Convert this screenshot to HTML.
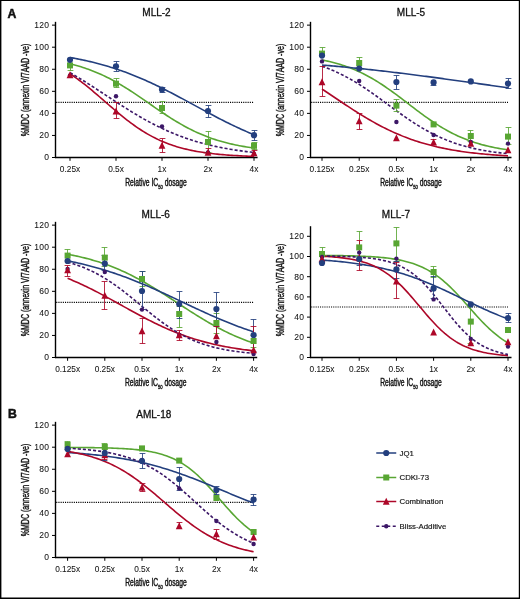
<!DOCTYPE html>
<html><head><meta charset="utf-8"><style>
html,body{margin:0;padding:0;background:#fff;}
svg{display:block;will-change:transform;}
text{font-family:"Liberation Sans", sans-serif;fill:#111;stroke:#111;stroke-width:0.05px;}
</style></head><body>
<svg width="520" height="599" viewBox="0 0 520 599">
<path d="M0 0H520V1.1H0Z M0 0H1.4V599H0Z M518.8 0H520V599H518.8Z M0 597.4H520V599H0Z" fill="#000"/>
<text x="7.5" y="18.1" font-size="12.2" font-weight="bold" style="stroke-width:0.5px">A</text>
<text x="8" y="418.1" font-size="12.2" font-weight="bold" style="stroke-width:0.5px">B</text>
<text x="156.5" y="16.10" text-anchor="middle" font-size="10" style="stroke-width:0.3px">MLL-2</text>
<path d="M55.5 158.10V21.83" stroke="#000" stroke-width="1.4" fill="none"/>
<path d="M54.90 157.50H257.6" stroke="#000" stroke-width="1.3" fill="none"/>
<path d="M52.00 157.50H55.5" stroke="#000" stroke-width="1"/>
<text x="49.10" y="160.40" text-anchor="end" font-size="8.5" letter-spacing="0.2">0</text>
<path d="M52.00 135.44H55.5" stroke="#000" stroke-width="1"/>
<text x="49.10" y="138.34" text-anchor="end" font-size="8.5" letter-spacing="0.2">20</text>
<path d="M52.00 113.38H55.5" stroke="#000" stroke-width="1"/>
<text x="49.10" y="116.28" text-anchor="end" font-size="8.5" letter-spacing="0.2">40</text>
<path d="M52.00 91.32H55.5" stroke="#000" stroke-width="1"/>
<text x="49.10" y="94.22" text-anchor="end" font-size="8.5" letter-spacing="0.2">60</text>
<path d="M52.00 69.26H55.5" stroke="#000" stroke-width="1"/>
<text x="49.10" y="72.16" text-anchor="end" font-size="8.5" letter-spacing="0.2">80</text>
<path d="M52.00 47.20H55.5" stroke="#000" stroke-width="1"/>
<text x="49.10" y="50.10" text-anchor="end" font-size="8.5" letter-spacing="0.2">100</text>
<path d="M52.00 25.14H55.5" stroke="#000" stroke-width="1"/>
<text x="49.10" y="28.04" text-anchor="end" font-size="8.5" letter-spacing="0.2">120</text>
<path d="M70 157.5V160.80" stroke="#000" stroke-width="1"/>
<text x="70" y="171.50" text-anchor="middle" font-size="8.3">0.25x</text>
<path d="M116 157.5V160.80" stroke="#000" stroke-width="1"/>
<text x="116" y="171.50" text-anchor="middle" font-size="8.3">0.5x</text>
<path d="M162 157.5V160.80" stroke="#000" stroke-width="1"/>
<text x="162" y="171.50" text-anchor="middle" font-size="8.3">1x</text>
<path d="M208 157.5V160.80" stroke="#000" stroke-width="1"/>
<text x="208" y="171.50" text-anchor="middle" font-size="8.3">2x</text>
<path d="M254 157.5V160.80" stroke="#000" stroke-width="1"/>
<text x="254" y="171.50" text-anchor="middle" font-size="8.3">4x</text>
<path d="M56.20 102.35H254" stroke="#000" stroke-width="1.1" stroke-dasharray="1.1 1.1"/>
<text transform="translate(25.5,90) rotate(-90) scale(0.68,1)" x="0" y="3.5" text-anchor="middle" font-size="10.4" style="stroke-width:0.4px">%MDC (annexin V/7AAD -ve)</text>
<text transform="translate(156,186) scale(0.675,1)" x="0" y="0" text-anchor="middle" font-size="10" style="stroke-width:0.4px">Relative IC<tspan font-size="6.2" dy="3">50</tspan><tspan dy="-3"> dosage</tspan></text>
<path d="M70.00 63.78 L71.84 64.24 L73.68 64.72 L75.52 65.22 L77.36 65.74 L79.20 66.28 L81.04 66.84 L82.88 67.42 L84.72 68.02 L86.56 68.65 L88.40 69.30 L90.24 69.98 L92.08 70.68 L93.92 71.40 L95.76 72.15 L97.60 72.92 L99.44 73.72 L101.28 74.54 L103.12 75.39 L104.96 76.27 L106.80 77.17 L108.64 78.09 L110.48 79.04 L112.32 80.02 L114.16 81.01 L116.00 82.04 L117.84 83.08 L119.68 84.15 L121.52 85.24 L123.36 86.35 L125.20 87.48 L127.04 88.63 L128.88 89.80 L130.72 90.99 L132.56 92.19 L134.40 93.40 L136.24 94.63 L138.08 95.87 L139.92 97.12 L141.76 98.38 L143.60 99.64 L145.44 100.91 L147.28 102.19 L149.12 103.46 L150.96 104.74 L152.80 106.01 L154.64 107.29 L156.48 108.55 L158.32 109.81 L160.16 111.06 L162.00 112.30 L163.84 113.53 L165.68 114.75 L167.52 115.96 L169.36 117.14 L171.20 118.31 L173.04 119.47 L174.88 120.60 L176.72 121.72 L178.56 122.81 L180.40 123.88 L182.24 124.93 L184.08 125.96 L185.92 126.96 L187.76 127.94 L189.60 128.89 L191.44 129.82 L193.28 130.72 L195.12 131.60 L196.96 132.45 L198.80 133.28 L200.64 134.08 L202.48 134.86 L204.32 135.61 L206.16 136.34 L208.00 137.04 L209.84 137.72 L211.68 138.38 L213.52 139.01 L215.36 139.62 L217.20 140.20 L219.04 140.77 L220.88 141.31 L222.72 141.83 L224.56 142.33 L226.40 142.82 L228.24 143.28 L230.08 143.72 L231.92 144.15 L233.76 144.55 L235.60 144.94 L237.44 145.32 L239.28 145.68 L241.12 146.02 L242.96 146.35 L244.80 146.66 L246.64 146.96 L248.48 147.24 L250.32 147.52 L252.16 147.78 L254.00 148.03" stroke="#58a633" stroke-width="1.6" fill="none"/>
<path d="M70.00 57.50 L71.84 57.83 L73.68 58.16 L75.52 58.51 L77.36 58.87 L79.20 59.23 L81.04 59.61 L82.88 59.99 L84.72 60.39 L86.56 60.80 L88.40 61.22 L90.24 61.64 L92.08 62.09 L93.92 62.54 L95.76 63.00 L97.60 63.48 L99.44 63.97 L101.28 64.46 L103.12 64.98 L104.96 65.50 L106.80 66.04 L108.64 66.59 L110.48 67.15 L112.32 67.73 L114.16 68.32 L116.00 68.92 L117.84 69.53 L119.68 70.16 L121.52 70.80 L123.36 71.46 L125.20 72.12 L127.04 72.80 L128.88 73.50 L130.72 74.21 L132.56 74.93 L134.40 75.66 L136.24 76.41 L138.08 77.17 L139.92 77.94 L141.76 78.73 L143.60 79.52 L145.44 80.34 L147.28 81.16 L149.12 81.99 L150.96 82.84 L152.80 83.70 L154.64 84.56 L156.48 85.44 L158.32 86.33 L160.16 87.23 L162.00 88.14 L163.84 89.06 L165.68 89.99 L167.52 90.93 L169.36 91.87 L171.20 92.82 L173.04 93.78 L174.88 94.75 L176.72 95.72 L178.56 96.70 L180.40 97.68 L182.24 98.66 L184.08 99.65 L185.92 100.65 L187.76 101.65 L189.60 102.64 L191.44 103.64 L193.28 104.65 L195.12 105.65 L196.96 106.65 L198.80 107.65 L200.64 108.65 L202.48 109.65 L204.32 110.64 L206.16 111.63 L208.00 112.62 L209.84 113.60 L211.68 114.58 L213.52 115.56 L215.36 116.52 L217.20 117.48 L219.04 118.44 L220.88 119.38 L222.72 120.32 L224.56 121.25 L226.40 122.18 L228.24 123.09 L230.08 123.99 L231.92 124.88 L233.76 125.77 L235.60 126.64 L237.44 127.50 L239.28 128.35 L241.12 129.18 L242.96 130.01 L244.80 130.82 L246.64 131.63 L248.48 132.42 L250.32 133.19 L252.16 133.96 L254.00 134.71" stroke="#233f7e" stroke-width="1.6" fill="none"/>
<path d="M70.00 73.78 L71.84 75.01 L73.68 76.27 L75.52 77.56 L77.36 78.88 L79.20 80.24 L81.04 81.63 L82.88 83.04 L84.72 84.48 L86.56 85.95 L88.40 87.44 L90.24 88.95 L92.08 90.48 L93.92 92.03 L95.76 93.59 L97.60 95.17 L99.44 96.75 L101.28 98.35 L103.12 99.95 L104.96 101.55 L106.80 103.15 L108.64 104.75 L110.48 106.34 L112.32 107.93 L114.16 109.50 L116.00 111.07 L117.84 112.61 L119.68 114.14 L121.52 115.65 L123.36 117.14 L125.20 118.61 L127.04 120.05 L128.88 121.46 L130.72 122.84 L132.56 124.20 L134.40 125.52 L136.24 126.81 L138.08 128.07 L139.92 129.29 L141.76 130.48 L143.60 131.64 L145.44 132.76 L147.28 133.84 L149.12 134.89 L150.96 135.90 L152.80 136.88 L154.64 137.83 L156.48 138.74 L158.32 139.61 L160.16 140.46 L162.00 141.26 L163.84 142.04 L165.68 142.79 L167.52 143.50 L169.36 144.19 L171.20 144.84 L173.04 145.47 L174.88 146.07 L176.72 146.64 L178.56 147.19 L180.40 147.71 L182.24 148.21 L184.08 148.68 L185.92 149.13 L187.76 149.56 L189.60 149.97 L191.44 150.36 L193.28 150.73 L195.12 151.09 L196.96 151.42 L198.80 151.74 L200.64 152.04 L202.48 152.33 L204.32 152.60 L206.16 152.86 L208.00 153.11 L209.84 153.34 L211.68 153.56 L213.52 153.77 L215.36 153.97 L217.20 154.16 L219.04 154.34 L220.88 154.51 L222.72 154.67 L224.56 154.82 L226.40 154.96 L228.24 155.10 L230.08 155.23 L231.92 155.35 L233.76 155.46 L235.60 155.57 L237.44 155.67 L239.28 155.77 L241.12 155.86 L242.96 155.95 L244.80 156.03 L246.64 156.11 L248.48 156.19 L250.32 156.26 L252.16 156.32 L254.00 156.38" stroke="#ad0728" stroke-width="1.6" fill="none"/>
<path d="M70.00 72.66 L71.84 73.72 L73.68 74.80 L75.52 75.89 L77.36 77.00 L79.20 78.12 L81.04 79.24 L82.88 80.38 L84.72 81.53 L86.56 82.69 L88.40 83.86 L90.24 85.04 L92.08 86.22 L93.92 87.41 L95.76 88.61 L97.60 89.81 L99.44 91.01 L101.28 92.22 L103.12 93.43 L104.96 94.64 L106.80 95.85 L108.64 97.06 L110.48 98.27 L112.32 99.48 L114.16 100.68 L116.00 101.88 L117.84 103.07 L119.68 104.26 L121.52 105.45 L123.36 106.62 L125.20 107.78 L127.04 108.94 L128.88 110.09 L130.72 111.22 L132.56 112.35 L134.40 113.46 L136.24 114.56 L138.08 115.65 L139.92 116.72 L141.76 117.78 L143.60 118.83 L145.44 119.86 L147.28 120.87 L149.12 121.87 L150.96 122.85 L152.80 123.82 L154.64 124.77 L156.48 125.70 L158.32 126.61 L160.16 127.51 L162.00 128.38 L163.84 129.24 L165.68 130.09 L167.52 130.91 L169.36 131.72 L171.20 132.51 L173.04 133.28 L174.88 134.03 L176.72 134.76 L178.56 135.48 L180.40 136.18 L182.24 136.86 L184.08 137.53 L185.92 138.17 L187.76 138.80 L189.60 139.42 L191.44 140.01 L193.28 140.59 L195.12 141.16 L196.96 141.71 L198.80 142.24 L200.64 142.76 L202.48 143.26 L204.32 143.75 L206.16 144.22 L208.00 144.68 L209.84 145.13 L211.68 145.56 L213.52 145.98 L215.36 146.39 L217.20 146.78 L219.04 147.16 L220.88 147.53 L222.72 147.89 L224.56 148.23 L226.40 148.57 L228.24 148.89 L230.08 149.21 L231.92 149.51 L233.76 149.80 L235.60 150.09 L237.44 150.36 L239.28 150.62 L241.12 150.88 L242.96 151.13 L244.80 151.37 L246.64 151.60 L248.48 151.82 L250.32 152.04 L252.16 152.24 L254.00 152.44" stroke="#3c1767" stroke-width="1.6" fill="none" stroke-dasharray="3.1 2"/>
<path d="M70.5 65.40V70.50M67.60 70.50H73.40" stroke="#58a633" stroke-width="1" stroke-opacity="0.85" fill="none"/>
<path d="M116.5 83.70V78.50M113.60 78.50H119.40M116.5 83.70V87.50M113.60 87.50H119.40" stroke="#58a633" stroke-width="1" stroke-opacity="0.85" fill="none"/>
<path d="M162.5 108.00V101.50M159.60 101.50H165.40M162.5 108.00V113.50M159.60 113.50H165.40" stroke="#58a633" stroke-width="1" stroke-opacity="0.85" fill="none"/>
<path d="M208.5 142.00V131.50M205.60 131.50H211.40M208.5 142.00V152.50M205.60 152.50H211.40" stroke="#58a633" stroke-width="1" stroke-opacity="0.85" fill="none"/>
<path d="M254.5 145.80V142.50M251.60 142.50H257.40M254.5 145.80V149.50M251.60 149.50H257.40" stroke="#58a633" stroke-width="1" stroke-opacity="0.85" fill="none"/>
<path d="M116.5 66.30V61.50M113.60 61.50H119.40M116.5 66.30V71.50M113.60 71.50H119.40" stroke="#233f7e" stroke-width="1" stroke-opacity="0.85" fill="none"/>
<path d="M162.5 89.50V87.50M159.60 87.50H165.40M162.5 89.50V92.50M159.60 92.50H165.40" stroke="#233f7e" stroke-width="1" stroke-opacity="0.85" fill="none"/>
<path d="M208.5 111.00V105.50M205.60 105.50H211.40M208.5 111.00V117.50M205.60 117.50H211.40" stroke="#233f7e" stroke-width="1" stroke-opacity="0.85" fill="none"/>
<path d="M254.5 135.20V130.50M251.60 130.50H257.40M254.5 135.20V140.50M251.60 140.50H257.40" stroke="#233f7e" stroke-width="1" stroke-opacity="0.85" fill="none"/>
<path d="M116.5 111.20V102.50M113.60 102.50H119.40M116.5 111.20V118.50M113.60 118.50H119.40" stroke="#ad0728" stroke-width="1" stroke-opacity="0.85" fill="none"/>
<path d="M162.5 145.50V138.50M159.60 138.50H165.40M162.5 145.50V152.50M159.60 152.50H165.40" stroke="#ad0728" stroke-width="1" stroke-opacity="0.85" fill="none"/>
<path d="M208.5 152.50V148.50M205.60 148.50H211.40" stroke="#ad0728" stroke-width="1" stroke-opacity="0.85" fill="none"/>
<path d="M254.5 153.00V150.50M251.60 150.50H257.40" stroke="#ad0728" stroke-width="1" stroke-opacity="0.85" fill="none"/>
<rect x="67.00" y="62.40" width="6" height="6" fill="#58a633"/>
<rect x="113.00" y="80.70" width="6" height="6" fill="#58a633"/>
<rect x="159.00" y="105.00" width="6" height="6" fill="#58a633"/>
<rect x="205.00" y="139.00" width="6" height="6" fill="#58a633"/>
<rect x="251.00" y="142.80" width="6" height="6" fill="#58a633"/>
<circle cx="70.00" cy="75.50" r="2.2" fill="#3c1767"/>
<circle cx="116.00" cy="96.20" r="2.2" fill="#3c1767"/>
<circle cx="162.00" cy="126.50" r="2.2" fill="#3c1767"/>
<circle cx="208.00" cy="152.50" r="2.2" fill="#3c1767"/>
<circle cx="254.00" cy="154.00" r="2.2" fill="#3c1767"/>
<path d="M70.00 71.20L73.40 78.20L66.60 78.20Z" fill="#ad0728"/>
<path d="M116.00 107.40L119.40 114.40L112.60 114.40Z" fill="#ad0728"/>
<path d="M162.00 141.70L165.40 148.70L158.60 148.70Z" fill="#ad0728"/>
<path d="M208.00 148.70L211.40 155.70L204.60 155.70Z" fill="#ad0728"/>
<path d="M254.00 149.20L257.40 156.20L250.60 156.20Z" fill="#ad0728"/>
<circle cx="70.00" cy="59.80" r="3.1" fill="#233f7e"/>
<circle cx="116.00" cy="66.30" r="3.1" fill="#233f7e"/>
<circle cx="162.00" cy="89.50" r="3.1" fill="#233f7e"/>
<circle cx="208.00" cy="111.00" r="3.1" fill="#233f7e"/>
<circle cx="254.00" cy="135.20" r="3.1" fill="#233f7e"/>
<text x="411" y="16.10" text-anchor="middle" font-size="10" style="stroke-width:0.3px">MLL-5</text>
<path d="M310.5 158.10V21.83" stroke="#000" stroke-width="1.4" fill="none"/>
<path d="M309.90 157.50H511.5" stroke="#000" stroke-width="1.3" fill="none"/>
<path d="M307.00 157.50H310.5" stroke="#000" stroke-width="1"/>
<text x="304.10" y="160.40" text-anchor="end" font-size="8.5" letter-spacing="0.2">0</text>
<path d="M307.00 135.44H310.5" stroke="#000" stroke-width="1"/>
<text x="304.10" y="138.34" text-anchor="end" font-size="8.5" letter-spacing="0.2">20</text>
<path d="M307.00 113.38H310.5" stroke="#000" stroke-width="1"/>
<text x="304.10" y="116.28" text-anchor="end" font-size="8.5" letter-spacing="0.2">40</text>
<path d="M307.00 91.32H310.5" stroke="#000" stroke-width="1"/>
<text x="304.10" y="94.22" text-anchor="end" font-size="8.5" letter-spacing="0.2">60</text>
<path d="M307.00 69.26H310.5" stroke="#000" stroke-width="1"/>
<text x="304.10" y="72.16" text-anchor="end" font-size="8.5" letter-spacing="0.2">80</text>
<path d="M307.00 47.20H310.5" stroke="#000" stroke-width="1"/>
<text x="304.10" y="50.10" text-anchor="end" font-size="8.5" letter-spacing="0.2">100</text>
<path d="M307.00 25.14H310.5" stroke="#000" stroke-width="1"/>
<text x="304.10" y="28.04" text-anchor="end" font-size="8.5" letter-spacing="0.2">120</text>
<path d="M322 157.5V160.80" stroke="#000" stroke-width="1"/>
<text x="322" y="171.50" text-anchor="middle" font-size="8.3">0.125x</text>
<path d="M359.2 157.5V160.80" stroke="#000" stroke-width="1"/>
<text x="359.2" y="171.50" text-anchor="middle" font-size="8.3">0.25x</text>
<path d="M396.4 157.5V160.80" stroke="#000" stroke-width="1"/>
<text x="396.4" y="171.50" text-anchor="middle" font-size="8.3">0.5x</text>
<path d="M433.6 157.5V160.80" stroke="#000" stroke-width="1"/>
<text x="433.6" y="171.50" text-anchor="middle" font-size="8.3">1x</text>
<path d="M470.8 157.5V160.80" stroke="#000" stroke-width="1"/>
<text x="470.8" y="171.50" text-anchor="middle" font-size="8.3">2x</text>
<path d="M508 157.5V160.80" stroke="#000" stroke-width="1"/>
<text x="508" y="171.50" text-anchor="middle" font-size="8.3">4x</text>
<path d="M311.20 102.35H508" stroke="#000" stroke-width="1.1" stroke-dasharray="1.1 1.1"/>
<text transform="translate(280,90) rotate(-90) scale(0.68,1)" x="0" y="3.5" text-anchor="middle" font-size="10.4" style="stroke-width:0.4px">%MDC (annexin V/7AAD -ve)</text>
<text transform="translate(411,186) scale(0.675,1)" x="0" y="0" text-anchor="middle" font-size="10" style="stroke-width:0.4px">Relative IC<tspan font-size="6.2" dy="3">50</tspan><tspan dy="-3"> dosage</tspan></text>
<path d="M322.00 59.94 L323.86 60.31 L325.72 60.71 L327.58 61.12 L329.44 61.55 L331.30 62.01 L333.16 62.48 L335.02 62.98 L336.88 63.50 L338.74 64.04 L340.60 64.61 L342.46 65.20 L344.32 65.82 L346.18 66.46 L348.04 67.14 L349.90 67.83 L351.76 68.56 L353.62 69.32 L355.48 70.10 L357.34 70.92 L359.20 71.77 L361.06 72.64 L362.92 73.55 L364.78 74.49 L366.64 75.45 L368.50 76.45 L370.36 77.48 L372.22 78.54 L374.08 79.63 L375.94 80.75 L377.80 81.90 L379.66 83.07 L381.52 84.28 L383.38 85.50 L385.24 86.76 L387.10 88.04 L388.96 89.34 L390.82 90.66 L392.68 92.00 L394.54 93.35 L396.40 94.73 L398.26 96.11 L400.12 97.51 L401.98 98.92 L403.84 100.34 L405.70 101.76 L407.56 103.18 L409.42 104.61 L411.28 106.03 L413.14 107.45 L415.00 108.87 L416.86 110.27 L418.72 111.67 L420.58 113.05 L422.44 114.42 L424.30 115.78 L426.16 117.12 L428.02 118.43 L429.88 119.73 L431.74 121.00 L433.60 122.25 L435.46 123.48 L437.32 124.67 L439.18 125.84 L441.04 126.99 L442.90 128.10 L444.76 129.18 L446.62 130.24 L448.48 131.26 L450.34 132.26 L452.20 133.22 L454.06 134.15 L455.92 135.05 L457.78 135.92 L459.64 136.76 L461.50 137.57 L463.36 138.35 L465.22 139.11 L467.08 139.83 L468.94 140.52 L470.80 141.19 L472.66 141.83 L474.52 142.44 L476.38 143.03 L478.24 143.60 L480.10 144.13 L481.96 144.65 L483.82 145.14 L485.68 145.61 L487.54 146.06 L489.40 146.49 L491.26 146.90 L493.12 147.29 L494.98 147.66 L496.84 148.02 L498.70 148.36 L500.56 148.68 L502.42 148.98 L504.28 149.28 L506.14 149.55 L508.00 149.82" stroke="#58a633" stroke-width="1.6" fill="none"/>
<path d="M322.00 65.04 L323.86 65.19 L325.72 65.35 L327.58 65.51 L329.44 65.67 L331.30 65.83 L333.16 66.00 L335.02 66.16 L336.88 66.33 L338.74 66.50 L340.60 66.67 L342.46 66.85 L344.32 67.02 L346.18 67.20 L348.04 67.38 L349.90 67.56 L351.76 67.74 L353.62 67.93 L355.48 68.11 L357.34 68.30 L359.20 68.49 L361.06 68.68 L362.92 68.88 L364.78 69.07 L366.64 69.27 L368.50 69.47 L370.36 69.67 L372.22 69.87 L374.08 70.07 L375.94 70.28 L377.80 70.49 L379.66 70.69 L381.52 70.90 L383.38 71.12 L385.24 71.33 L387.10 71.55 L388.96 71.76 L390.82 71.98 L392.68 72.20 L394.54 72.42 L396.40 72.65 L398.26 72.87 L400.12 73.10 L401.98 73.33 L403.84 73.56 L405.70 73.79 L407.56 74.02 L409.42 74.25 L411.28 74.49 L413.14 74.72 L415.00 74.96 L416.86 75.20 L418.72 75.44 L420.58 75.68 L422.44 75.92 L424.30 76.17 L426.16 76.41 L428.02 76.66 L429.88 76.91 L431.74 77.15 L433.60 77.40 L435.46 77.65 L437.32 77.90 L439.18 78.16 L441.04 78.41 L442.90 78.66 L444.76 78.92 L446.62 79.17 L448.48 79.43 L450.34 79.68 L452.20 79.94 L454.06 80.20 L455.92 80.46 L457.78 80.72 L459.64 80.98 L461.50 81.24 L463.36 81.50 L465.22 81.76 L467.08 82.02 L468.94 82.28 L470.80 82.54 L472.66 82.80 L474.52 83.06 L476.38 83.33 L478.24 83.59 L480.10 83.85 L481.96 84.11 L483.82 84.38 L485.68 84.64 L487.54 84.90 L489.40 85.16 L491.26 85.42 L493.12 85.68 L494.98 85.95 L496.84 86.21 L498.70 86.47 L500.56 86.73 L502.42 86.99 L504.28 87.25 L506.14 87.50 L508.00 87.76" stroke="#233f7e" stroke-width="1.6" fill="none"/>
<path d="M322.00 89.05 L323.86 90.28 L325.72 91.52 L327.58 92.76 L329.44 94.01 L331.30 95.26 L333.16 96.51 L335.02 97.76 L336.88 99.01 L338.74 100.25 L340.60 101.50 L342.46 102.74 L344.32 103.98 L346.18 105.21 L348.04 106.43 L349.90 107.65 L351.76 108.86 L353.62 110.06 L355.48 111.25 L357.34 112.43 L359.20 113.59 L361.06 114.75 L362.92 115.89 L364.78 117.01 L366.64 118.12 L368.50 119.22 L370.36 120.30 L372.22 121.36 L374.08 122.41 L375.94 123.44 L377.80 124.45 L379.66 125.44 L381.52 126.42 L383.38 127.38 L385.24 128.31 L387.10 129.23 L388.96 130.13 L390.82 131.01 L392.68 131.87 L394.54 132.71 L396.40 133.53 L398.26 134.33 L400.12 135.11 L401.98 135.87 L403.84 136.62 L405.70 137.34 L407.56 138.04 L409.42 138.73 L411.28 139.40 L413.14 140.05 L415.00 140.68 L416.86 141.29 L418.72 141.88 L420.58 142.46 L422.44 143.02 L424.30 143.56 L426.16 144.09 L428.02 144.60 L429.88 145.10 L431.74 145.58 L433.60 146.04 L435.46 146.49 L437.32 146.93 L439.18 147.35 L441.04 147.75 L442.90 148.15 L444.76 148.53 L446.62 148.90 L448.48 149.25 L450.34 149.59 L452.20 149.93 L454.06 150.25 L455.92 150.56 L457.78 150.85 L459.64 151.14 L461.50 151.42 L463.36 151.69 L465.22 151.95 L467.08 152.20 L468.94 152.44 L470.80 152.67 L472.66 152.89 L474.52 153.11 L476.38 153.31 L478.24 153.51 L480.10 153.71 L481.96 153.89 L483.82 154.07 L485.68 154.24 L487.54 154.41 L489.40 154.57 L491.26 154.72 L493.12 154.87 L494.98 155.01 L496.84 155.15 L498.70 155.28 L500.56 155.41 L502.42 155.53 L504.28 155.64 L506.14 155.76 L508.00 155.87" stroke="#ad0728" stroke-width="1.6" fill="none"/>
<path d="M322.00 66.27 L323.86 66.92 L325.72 67.60 L327.58 68.31 L329.44 69.04 L331.30 69.80 L333.16 70.59 L335.02 71.40 L336.88 72.24 L338.74 73.11 L340.60 74.00 L342.46 74.93 L344.32 75.87 L346.18 76.85 L348.04 77.86 L349.90 78.89 L351.76 79.94 L353.62 81.03 L355.48 82.14 L357.34 83.27 L359.20 84.43 L361.06 85.61 L362.92 86.81 L364.78 88.04 L366.64 89.28 L368.50 90.55 L370.36 91.83 L372.22 93.13 L374.08 94.44 L375.94 95.77 L377.80 97.11 L379.66 98.45 L381.52 99.81 L383.38 101.17 L385.24 102.54 L387.10 103.91 L388.96 105.28 L390.82 106.65 L392.68 108.02 L394.54 109.38 L396.40 110.73 L398.26 112.08 L400.12 113.42 L401.98 114.74 L403.84 116.06 L405.70 117.35 L407.56 118.64 L409.42 119.90 L411.28 121.14 L413.14 122.37 L415.00 123.57 L416.86 124.75 L418.72 125.91 L420.58 127.04 L422.44 128.15 L424.30 129.23 L426.16 130.29 L428.02 131.32 L429.88 132.32 L431.74 133.30 L433.60 134.25 L435.46 135.17 L437.32 136.06 L439.18 136.93 L441.04 137.77 L442.90 138.58 L444.76 139.36 L446.62 140.12 L448.48 140.85 L450.34 141.56 L452.20 142.24 L454.06 142.90 L455.92 143.53 L457.78 144.14 L459.64 144.72 L461.50 145.28 L463.36 145.82 L465.22 146.34 L467.08 146.84 L468.94 147.31 L470.80 147.77 L472.66 148.21 L474.52 148.63 L476.38 149.03 L478.24 149.41 L480.10 149.78 L481.96 150.13 L483.82 150.47 L485.68 150.79 L487.54 151.09 L489.40 151.39 L491.26 151.67 L493.12 151.93 L494.98 152.19 L496.84 152.43 L498.70 152.66 L500.56 152.88 L502.42 153.09 L504.28 153.29 L506.14 153.48 L508.00 153.67" stroke="#3c1767" stroke-width="1.6" fill="none" stroke-dasharray="3.1 2"/>
<path d="M322.5 53.60V47.50M319.60 47.50H325.40" stroke="#58a633" stroke-width="1" stroke-opacity="0.85" fill="none"/>
<path d="M359.5 63.00V57.50M356.60 57.50H362.40" stroke="#58a633" stroke-width="1" stroke-opacity="0.85" fill="none"/>
<path d="M396.5 105.60V99.50M393.60 99.50H399.40M396.5 105.60V111.50M393.60 111.50H399.40" stroke="#58a633" stroke-width="1" stroke-opacity="0.85" fill="none"/>
<path d="M470.5 136.00V130.50M467.60 130.50H473.40M470.5 136.00V141.50M467.60 141.50H473.40" stroke="#58a633" stroke-width="1" stroke-opacity="0.85" fill="none"/>
<path d="M508.5 136.60V127.50M505.60 127.50H511.40M508.5 136.60V144.50M505.60 144.50H511.40" stroke="#58a633" stroke-width="1" stroke-opacity="0.85" fill="none"/>
<path d="M396.5 82.00V75.50M393.60 75.50H399.40M396.5 82.00V89.50M393.60 89.50H399.40" stroke="#233f7e" stroke-width="1" stroke-opacity="0.85" fill="none"/>
<path d="M433.5 82.40V85.50M430.60 85.50H436.40" stroke="#233f7e" stroke-width="1" stroke-opacity="0.85" fill="none"/>
<path d="M508.5 83.60V78.50M505.60 78.50H511.40M508.5 83.60V88.50M505.60 88.50H511.40" stroke="#233f7e" stroke-width="1" stroke-opacity="0.85" fill="none"/>
<path d="M322.5 82.00V66.50M319.60 66.50H325.40M322.5 82.00V96.50M319.60 96.50H325.40" stroke="#ad0728" stroke-width="1" stroke-opacity="0.85" fill="none"/>
<path d="M359.5 121.00V113.50M356.60 113.50H362.40M359.5 121.00V129.50M356.60 129.50H362.40" stroke="#ad0728" stroke-width="1" stroke-opacity="0.85" fill="none"/>
<path d="M433.5 142.40V139.50M430.60 139.50H436.40" stroke="#ad0728" stroke-width="1" stroke-opacity="0.85" fill="none"/>
<rect x="319.00" y="50.60" width="6" height="6" fill="#58a633"/>
<rect x="356.20" y="60.00" width="6" height="6" fill="#58a633"/>
<rect x="393.40" y="102.60" width="6" height="6" fill="#58a633"/>
<rect x="430.60" y="121.40" width="6" height="6" fill="#58a633"/>
<rect x="467.80" y="133.00" width="6" height="6" fill="#58a633"/>
<rect x="505.00" y="133.60" width="6" height="6" fill="#58a633"/>
<circle cx="322.00" cy="61.40" r="2.2" fill="#3c1767"/>
<circle cx="359.20" cy="81.00" r="2.2" fill="#3c1767"/>
<circle cx="396.40" cy="122.00" r="2.2" fill="#3c1767"/>
<circle cx="433.60" cy="135.00" r="2.2" fill="#3c1767"/>
<circle cx="470.80" cy="142.00" r="2.2" fill="#3c1767"/>
<circle cx="508.00" cy="143.60" r="2.2" fill="#3c1767"/>
<path d="M322.00 78.20L325.40 85.20L318.60 85.20Z" fill="#ad0728"/>
<path d="M359.20 117.20L362.60 124.20L355.80 124.20Z" fill="#ad0728"/>
<path d="M396.40 134.20L399.80 141.20L393.00 141.20Z" fill="#ad0728"/>
<path d="M433.60 138.60L437.00 145.60L430.20 145.60Z" fill="#ad0728"/>
<path d="M470.80 139.80L474.20 146.80L467.40 146.80Z" fill="#ad0728"/>
<path d="M508.00 146.20L511.40 153.20L504.60 153.20Z" fill="#ad0728"/>
<circle cx="322.00" cy="55.60" r="3.1" fill="#233f7e"/>
<circle cx="359.20" cy="68.60" r="3.1" fill="#233f7e"/>
<circle cx="396.40" cy="82.00" r="3.1" fill="#233f7e"/>
<circle cx="433.60" cy="82.40" r="3.1" fill="#233f7e"/>
<circle cx="470.80" cy="81.40" r="3.1" fill="#233f7e"/>
<circle cx="508.00" cy="83.60" r="3.1" fill="#233f7e"/>
<text x="155.75" y="218.10" text-anchor="middle" font-size="10" style="stroke-width:0.3px">MLL-6</text>
<path d="M55.5 358.10V221.83" stroke="#000" stroke-width="1.4" fill="none"/>
<path d="M54.90 357.50H257.2" stroke="#000" stroke-width="1.3" fill="none"/>
<path d="M52.00 357.50H55.5" stroke="#000" stroke-width="1"/>
<text x="49.10" y="360.40" text-anchor="end" font-size="8.5" letter-spacing="0.2">0</text>
<path d="M52.00 335.44H55.5" stroke="#000" stroke-width="1"/>
<text x="49.10" y="338.34" text-anchor="end" font-size="8.5" letter-spacing="0.2">20</text>
<path d="M52.00 313.38H55.5" stroke="#000" stroke-width="1"/>
<text x="49.10" y="316.28" text-anchor="end" font-size="8.5" letter-spacing="0.2">40</text>
<path d="M52.00 291.32H55.5" stroke="#000" stroke-width="1"/>
<text x="49.10" y="294.22" text-anchor="end" font-size="8.5" letter-spacing="0.2">60</text>
<path d="M52.00 269.26H55.5" stroke="#000" stroke-width="1"/>
<text x="49.10" y="272.16" text-anchor="end" font-size="8.5" letter-spacing="0.2">80</text>
<path d="M52.00 247.20H55.5" stroke="#000" stroke-width="1"/>
<text x="49.10" y="250.10" text-anchor="end" font-size="8.5" letter-spacing="0.2">100</text>
<path d="M52.00 225.14H55.5" stroke="#000" stroke-width="1"/>
<text x="49.10" y="228.04" text-anchor="end" font-size="8.5" letter-spacing="0.2">120</text>
<path d="M67.6 357.5V360.80" stroke="#000" stroke-width="1"/>
<text x="67.6" y="371.50" text-anchor="middle" font-size="8.3">0.125x</text>
<path d="M104.8 357.5V360.80" stroke="#000" stroke-width="1"/>
<text x="104.8" y="371.50" text-anchor="middle" font-size="8.3">0.25x</text>
<path d="M142 357.5V360.80" stroke="#000" stroke-width="1"/>
<text x="142" y="371.50" text-anchor="middle" font-size="8.3">0.5x</text>
<path d="M179.2 357.5V360.80" stroke="#000" stroke-width="1"/>
<text x="179.2" y="371.50" text-anchor="middle" font-size="8.3">1x</text>
<path d="M216.4 357.5V360.80" stroke="#000" stroke-width="1"/>
<text x="216.4" y="371.50" text-anchor="middle" font-size="8.3">2x</text>
<path d="M253.6 357.5V360.80" stroke="#000" stroke-width="1"/>
<text x="253.6" y="371.50" text-anchor="middle" font-size="8.3">4x</text>
<path d="M56.20 302.35H253.6" stroke="#000" stroke-width="1.1" stroke-dasharray="1.1 1.1"/>
<text transform="translate(25,290) rotate(-90) scale(0.68,1)" x="0" y="3.5" text-anchor="middle" font-size="10.4" style="stroke-width:0.4px">%MDC (annexin V/7AAD -ve)</text>
<text transform="translate(155.75,386) scale(0.675,1)" x="0" y="0" text-anchor="middle" font-size="10" style="stroke-width:0.4px">Relative IC<tspan font-size="6.2" dy="3">50</tspan><tspan dy="-3"> dosage</tspan></text>
<path d="M67.60 254.29 L69.46 254.64 L71.32 255.00 L73.18 255.37 L75.04 255.75 L76.90 256.15 L78.76 256.56 L80.62 256.98 L82.48 257.42 L84.34 257.88 L86.20 258.35 L88.06 258.84 L89.92 259.34 L91.78 259.86 L93.64 260.40 L95.50 260.95 L97.36 261.52 L99.22 262.11 L101.08 262.72 L102.94 263.34 L104.80 263.99 L106.66 264.65 L108.52 265.33 L110.38 266.03 L112.24 266.75 L114.10 267.49 L115.96 268.25 L117.82 269.03 L119.68 269.83 L121.54 270.65 L123.40 271.49 L125.26 272.35 L127.12 273.23 L128.98 274.13 L130.84 275.05 L132.70 275.99 L134.56 276.94 L136.42 277.92 L138.28 278.91 L140.14 279.92 L142.00 280.95 L143.86 282.00 L145.72 283.06 L147.58 284.14 L149.44 285.23 L151.30 286.34 L153.16 287.46 L155.02 288.59 L156.88 289.74 L158.74 290.89 L160.60 292.06 L162.46 293.24 L164.32 294.42 L166.18 295.62 L168.04 296.81 L169.90 298.02 L171.76 299.23 L173.62 300.44 L175.48 301.66 L177.34 302.87 L179.20 304.09 L181.06 305.30 L182.92 306.52 L184.78 307.73 L186.64 308.93 L188.50 310.13 L190.36 311.32 L192.22 312.51 L194.08 313.69 L195.94 314.86 L197.80 316.01 L199.66 317.16 L201.52 318.30 L203.38 319.42 L205.24 320.53 L207.10 321.62 L208.96 322.70 L210.82 323.76 L212.68 324.81 L214.54 325.84 L216.40 326.85 L218.26 327.85 L220.12 328.82 L221.98 329.78 L223.84 330.72 L225.70 331.64 L227.56 332.54 L229.42 333.42 L231.28 334.28 L233.14 335.12 L235.00 335.95 L236.86 336.75 L238.72 337.53 L240.58 338.29 L242.44 339.03 L244.30 339.76 L246.16 340.46 L248.02 341.14 L249.88 341.81 L251.74 342.45 L253.60 343.08" stroke="#58a633" stroke-width="1.6" fill="none"/>
<path d="M67.60 260.86 L69.46 261.23 L71.32 261.60 L73.18 261.99 L75.04 262.39 L76.90 262.79 L78.76 263.21 L80.62 263.63 L82.48 264.07 L84.34 264.52 L86.20 264.97 L88.06 265.44 L89.92 265.92 L91.78 266.41 L93.64 266.91 L95.50 267.42 L97.36 267.94 L99.22 268.47 L101.08 269.01 L102.94 269.56 L104.80 270.13 L106.66 270.71 L108.52 271.29 L110.38 271.89 L112.24 272.50 L114.10 273.12 L115.96 273.75 L117.82 274.39 L119.68 275.05 L121.54 275.71 L123.40 276.39 L125.26 277.07 L127.12 277.77 L128.98 278.47 L130.84 279.19 L132.70 279.92 L134.56 280.65 L136.42 281.40 L138.28 282.16 L140.14 282.92 L142.00 283.69 L143.86 284.48 L145.72 285.27 L147.58 286.07 L149.44 286.87 L151.30 287.69 L153.16 288.51 L155.02 289.34 L156.88 290.17 L158.74 291.01 L160.60 291.86 L162.46 292.71 L164.32 293.56 L166.18 294.42 L168.04 295.29 L169.90 296.16 L171.76 297.03 L173.62 297.90 L175.48 298.78 L177.34 299.65 L179.20 300.53 L181.06 301.41 L182.92 302.29 L184.78 303.17 L186.64 304.05 L188.50 304.92 L190.36 305.80 L192.22 306.67 L194.08 307.54 L195.94 308.41 L197.80 309.28 L199.66 310.14 L201.52 310.99 L203.38 311.84 L205.24 312.69 L207.10 313.53 L208.96 314.36 L210.82 315.19 L212.68 316.01 L214.54 316.83 L216.40 317.63 L218.26 318.43 L220.12 319.22 L221.98 320.01 L223.84 320.78 L225.70 321.54 L227.56 322.30 L229.42 323.05 L231.28 323.78 L233.14 324.51 L235.00 325.23 L236.86 325.93 L238.72 326.63 L240.58 327.31 L242.44 327.99 L244.30 328.65 L246.16 329.31 L248.02 329.95 L249.88 330.58 L251.74 331.20 L253.60 331.81" stroke="#233f7e" stroke-width="1.6" fill="none"/>
<path d="M67.60 278.33 L69.46 279.09 L71.32 279.85 L73.18 280.64 L75.04 281.44 L76.90 282.26 L78.76 283.09 L80.62 283.93 L82.48 284.79 L84.34 285.67 L86.20 286.56 L88.06 287.46 L89.92 288.38 L91.78 289.30 L93.64 290.24 L95.50 291.19 L97.36 292.16 L99.22 293.13 L101.08 294.11 L102.94 295.10 L104.80 296.10 L106.66 297.10 L108.52 298.11 L110.38 299.13 L112.24 300.16 L114.10 301.18 L115.96 302.21 L117.82 303.25 L119.68 304.28 L121.54 305.32 L123.40 306.35 L125.26 307.39 L127.12 308.42 L128.98 309.45 L130.84 310.48 L132.70 311.50 L134.56 312.52 L136.42 313.53 L138.28 314.53 L140.14 315.53 L142.00 316.52 L143.86 317.50 L145.72 318.47 L147.58 319.43 L149.44 320.38 L151.30 321.32 L153.16 322.25 L155.02 323.16 L156.88 324.06 L158.74 324.95 L160.60 325.83 L162.46 326.68 L164.32 327.53 L166.18 328.36 L168.04 329.17 L169.90 329.97 L171.76 330.76 L173.62 331.53 L175.48 332.28 L177.34 333.01 L179.20 333.73 L181.06 334.44 L182.92 335.12 L184.78 335.79 L186.64 336.45 L188.50 337.09 L190.36 337.71 L192.22 338.32 L194.08 338.91 L195.94 339.48 L197.80 340.04 L199.66 340.59 L201.52 341.11 L203.38 341.63 L205.24 342.13 L207.10 342.61 L208.96 343.08 L210.82 343.54 L212.68 343.98 L214.54 344.41 L216.40 344.83 L218.26 345.23 L220.12 345.62 L221.98 346.00 L223.84 346.36 L225.70 346.72 L227.56 347.06 L229.42 347.39 L231.28 347.71 L233.14 348.02 L235.00 348.32 L236.86 348.61 L238.72 348.89 L240.58 349.16 L242.44 349.42 L244.30 349.67 L246.16 349.91 L248.02 350.15 L249.88 350.37 L251.74 350.59 L253.60 350.80" stroke="#ad0728" stroke-width="1.6" fill="none"/>
<path d="M67.60 262.24 L69.46 262.75 L71.32 263.29 L73.18 263.85 L75.04 264.44 L76.90 265.06 L78.76 265.71 L80.62 266.39 L82.48 267.10 L84.34 267.84 L86.20 268.61 L88.06 269.42 L89.92 270.26 L91.78 271.13 L93.64 272.04 L95.50 272.99 L97.36 273.97 L99.22 274.98 L101.08 276.03 L102.94 277.12 L104.80 278.24 L106.66 279.40 L108.52 280.59 L110.38 281.81 L112.24 283.07 L114.10 284.36 L115.96 285.68 L117.82 287.03 L119.68 288.40 L121.54 289.80 L123.40 291.23 L125.26 292.68 L127.12 294.15 L128.98 295.64 L130.84 297.14 L132.70 298.65 L134.56 300.18 L136.42 301.71 L138.28 303.25 L140.14 304.79 L142.00 306.33 L143.86 307.87 L145.72 309.40 L147.58 310.92 L149.44 312.43 L151.30 313.93 L153.16 315.41 L155.02 316.87 L156.88 318.31 L158.74 319.73 L160.60 321.12 L162.46 322.48 L164.32 323.82 L166.18 325.13 L168.04 326.40 L169.90 327.65 L171.76 328.86 L173.62 330.03 L175.48 331.18 L177.34 332.28 L179.20 333.35 L181.06 334.39 L182.92 335.39 L184.78 336.36 L186.64 337.29 L188.50 338.18 L190.36 339.04 L192.22 339.87 L194.08 340.66 L195.94 341.42 L197.80 342.15 L199.66 342.85 L201.52 343.51 L203.38 344.15 L205.24 344.76 L207.10 345.34 L208.96 345.89 L210.82 346.42 L212.68 346.92 L214.54 347.39 L216.40 347.85 L218.26 348.28 L220.12 348.69 L221.98 349.08 L223.84 349.45 L225.70 349.80 L227.56 350.13 L229.42 350.45 L231.28 350.75 L233.14 351.03 L235.00 351.30 L236.86 351.55 L238.72 351.79 L240.58 352.02 L242.44 352.24 L244.30 352.44 L246.16 352.63 L248.02 352.81 L249.88 352.99 L251.74 353.15 L253.60 353.30" stroke="#3c1767" stroke-width="1.6" fill="none" stroke-dasharray="3.1 2"/>
<path d="M67.5 255.60V249.50M64.60 249.50H70.40" stroke="#58a633" stroke-width="1" stroke-opacity="0.85" fill="none"/>
<path d="M104.5 257.60V247.50M101.60 247.50H107.40M104.5 257.60V266.50M101.60 266.50H107.40" stroke="#58a633" stroke-width="1" stroke-opacity="0.85" fill="none"/>
<path d="M142.5 279.00V271.50M139.60 271.50H145.40M142.5 279.00V286.50M139.60 286.50H145.40" stroke="#58a633" stroke-width="1" stroke-opacity="0.85" fill="none"/>
<path d="M179.5 314.00V306.50M176.60 306.50H182.40M179.5 314.00V327.50M176.60 327.50H182.40" stroke="#58a633" stroke-width="1" stroke-opacity="0.85" fill="none"/>
<path d="M216.5 323.00V313.50M213.60 313.50H219.40M216.5 323.00V333.50M213.60 333.50H219.40" stroke="#58a633" stroke-width="1" stroke-opacity="0.85" fill="none"/>
<path d="M253.5 341.00V335.50M250.60 335.50H256.40M253.5 341.00V347.50M250.60 347.50H256.40" stroke="#58a633" stroke-width="1" stroke-opacity="0.85" fill="none"/>
<path d="M104.5 263.60V255.50M101.60 255.50H107.40M104.5 263.60V270.50M101.60 270.50H107.40" stroke="#233f7e" stroke-width="1" stroke-opacity="0.85" fill="none"/>
<path d="M142.5 291.00V271.50M139.60 271.50H145.40M142.5 291.00V309.50M139.60 309.50H145.40" stroke="#233f7e" stroke-width="1" stroke-opacity="0.85" fill="none"/>
<path d="M179.5 304.00V291.50M176.60 291.50H182.40M179.5 304.00V318.50M176.60 318.50H182.40" stroke="#233f7e" stroke-width="1" stroke-opacity="0.85" fill="none"/>
<path d="M216.5 309.00V292.50M213.60 292.50H219.40M216.5 309.00V326.50M213.60 326.50H219.40" stroke="#233f7e" stroke-width="1" stroke-opacity="0.85" fill="none"/>
<path d="M253.5 335.00V319.50M250.60 319.50H256.40M253.5 335.00V351.50M250.60 351.50H256.40" stroke="#233f7e" stroke-width="1" stroke-opacity="0.85" fill="none"/>
<path d="M67.5 270.00V265.50M64.60 265.50H70.40M67.5 270.00V276.50M64.60 276.50H70.40" stroke="#ad0728" stroke-width="1" stroke-opacity="0.85" fill="none"/>
<path d="M104.5 295.60V281.50M101.60 281.50H107.40M104.5 295.60V309.50M101.60 309.50H107.40" stroke="#ad0728" stroke-width="1" stroke-opacity="0.85" fill="none"/>
<path d="M142.5 331.00V318.50M139.60 318.50H145.40M142.5 331.00V343.50M139.60 343.50H145.40" stroke="#ad0728" stroke-width="1" stroke-opacity="0.85" fill="none"/>
<path d="M179.5 335.00V330.50M176.60 330.50H182.40M179.5 335.00V340.50M176.60 340.50H182.40" stroke="#ad0728" stroke-width="1" stroke-opacity="0.85" fill="none"/>
<path d="M216.5 336.00V326.50M213.60 326.50H219.40" stroke="#ad0728" stroke-width="1" stroke-opacity="0.85" fill="none"/>
<path d="M253.5 350.00V326.50M250.60 326.50H256.40" stroke="#ad0728" stroke-width="1" stroke-opacity="0.85" fill="none"/>
<rect x="64.60" y="252.60" width="6" height="6" fill="#58a633"/>
<rect x="101.80" y="254.60" width="6" height="6" fill="#58a633"/>
<rect x="139.00" y="276.00" width="6" height="6" fill="#58a633"/>
<rect x="176.20" y="311.00" width="6" height="6" fill="#58a633"/>
<rect x="213.40" y="320.00" width="6" height="6" fill="#58a633"/>
<rect x="250.60" y="338.00" width="6" height="6" fill="#58a633"/>
<circle cx="67.60" cy="269.00" r="2.2" fill="#3c1767"/>
<circle cx="104.80" cy="272.00" r="2.2" fill="#3c1767"/>
<circle cx="142.00" cy="309.60" r="2.2" fill="#3c1767"/>
<circle cx="179.20" cy="335.00" r="2.2" fill="#3c1767"/>
<circle cx="216.40" cy="342.00" r="2.2" fill="#3c1767"/>
<circle cx="253.60" cy="354.00" r="2.2" fill="#3c1767"/>
<path d="M67.60 266.20L71.00 273.20L64.20 273.20Z" fill="#ad0728"/>
<path d="M104.80 291.80L108.20 298.80L101.40 298.80Z" fill="#ad0728"/>
<path d="M142.00 327.20L145.40 334.20L138.60 334.20Z" fill="#ad0728"/>
<path d="M179.20 331.20L182.60 338.20L175.80 338.20Z" fill="#ad0728"/>
<path d="M216.40 332.20L219.80 339.20L213.00 339.20Z" fill="#ad0728"/>
<path d="M253.60 346.20L257.00 353.20L250.20 353.20Z" fill="#ad0728"/>
<circle cx="67.60" cy="261.00" r="3.1" fill="#233f7e"/>
<circle cx="104.80" cy="263.60" r="3.1" fill="#233f7e"/>
<circle cx="142.00" cy="291.00" r="3.1" fill="#233f7e"/>
<circle cx="179.20" cy="304.00" r="3.1" fill="#233f7e"/>
<circle cx="216.40" cy="309.00" r="3.1" fill="#233f7e"/>
<circle cx="253.60" cy="335.00" r="3.1" fill="#233f7e"/>
<text x="396" y="217.60" text-anchor="middle" font-size="10" style="stroke-width:0.3px">MLL-7</text>
<path d="M310.5 358.10V226.20" stroke="#000" stroke-width="1.4" fill="none"/>
<path d="M309.90 357.50H511.5" stroke="#000" stroke-width="1.3" fill="none"/>
<path d="M307.00 357.50H310.5" stroke="#000" stroke-width="1"/>
<text x="304.10" y="360.40" text-anchor="end" font-size="8.5" letter-spacing="0.2">0</text>
<path d="M307.00 337.30H310.5" stroke="#000" stroke-width="1"/>
<text x="304.10" y="340.20" text-anchor="end" font-size="8.5" letter-spacing="0.2">20</text>
<path d="M307.00 317.10H310.5" stroke="#000" stroke-width="1"/>
<text x="304.10" y="320.00" text-anchor="end" font-size="8.5" letter-spacing="0.2">40</text>
<path d="M307.00 296.90H310.5" stroke="#000" stroke-width="1"/>
<text x="304.10" y="299.80" text-anchor="end" font-size="8.5" letter-spacing="0.2">60</text>
<path d="M307.00 276.70H310.5" stroke="#000" stroke-width="1"/>
<text x="304.10" y="279.60" text-anchor="end" font-size="8.5" letter-spacing="0.2">80</text>
<path d="M307.00 256.50H310.5" stroke="#000" stroke-width="1"/>
<text x="304.10" y="259.40" text-anchor="end" font-size="8.5" letter-spacing="0.2">100</text>
<path d="M307.00 236.30H310.5" stroke="#000" stroke-width="1"/>
<text x="304.10" y="239.20" text-anchor="end" font-size="8.5" letter-spacing="0.2">120</text>
<path d="M322 357.5V360.80" stroke="#000" stroke-width="1"/>
<text x="322" y="371.50" text-anchor="middle" font-size="8.3">0.125x</text>
<path d="M359.2 357.5V360.80" stroke="#000" stroke-width="1"/>
<text x="359.2" y="371.50" text-anchor="middle" font-size="8.3">0.25x</text>
<path d="M396.4 357.5V360.80" stroke="#000" stroke-width="1"/>
<text x="396.4" y="371.50" text-anchor="middle" font-size="8.3">0.5x</text>
<path d="M433.6 357.5V360.80" stroke="#000" stroke-width="1"/>
<text x="433.6" y="371.50" text-anchor="middle" font-size="8.3">1x</text>
<path d="M470.8 357.5V360.80" stroke="#000" stroke-width="1"/>
<text x="470.8" y="371.50" text-anchor="middle" font-size="8.3">2x</text>
<path d="M508 357.5V360.80" stroke="#000" stroke-width="1"/>
<text x="508" y="371.50" text-anchor="middle" font-size="8.3">4x</text>
<path d="M311.20 307.00H508" stroke="#000" stroke-width="1.1" stroke-dasharray="1.1 1.1"/>
<text transform="translate(280,290) rotate(-90) scale(0.68,1)" x="0" y="3.5" text-anchor="middle" font-size="10.4" style="stroke-width:0.4px">%MDC (annexin V/7AAD -ve)</text>
<text transform="translate(411,386) scale(0.675,1)" x="0" y="0" text-anchor="middle" font-size="10" style="stroke-width:0.4px">Relative IC<tspan font-size="6.2" dy="3">50</tspan><tspan dy="-3"> dosage</tspan></text>
<path d="M322.00 255.42 L323.86 255.44 L325.72 255.45 L327.58 255.47 L329.44 255.49 L331.30 255.51 L333.16 255.53 L335.02 255.55 L336.88 255.58 L338.74 255.61 L340.60 255.63 L342.46 255.67 L344.32 255.70 L346.18 255.74 L348.04 255.78 L349.90 255.82 L351.76 255.87 L353.62 255.92 L355.48 255.98 L357.34 256.04 L359.20 256.11 L361.06 256.18 L362.92 256.26 L364.78 256.34 L366.64 256.43 L368.50 256.53 L370.36 256.63 L372.22 256.75 L374.08 256.87 L375.94 257.01 L377.80 257.16 L379.66 257.31 L381.52 257.48 L383.38 257.67 L385.24 257.87 L387.10 258.08 L388.96 258.31 L390.82 258.57 L392.68 258.84 L394.54 259.13 L396.40 259.44 L398.26 259.78 L400.12 260.15 L401.98 260.54 L403.84 260.96 L405.70 261.42 L407.56 261.91 L409.42 262.43 L411.28 262.99 L413.14 263.59 L415.00 264.24 L416.86 264.93 L418.72 265.67 L420.58 266.45 L422.44 267.29 L424.30 268.18 L426.16 269.13 L428.02 270.14 L429.88 271.20 L431.74 272.33 L433.60 273.52 L435.46 274.77 L437.32 276.09 L439.18 277.48 L441.04 278.93 L442.90 280.45 L444.76 282.03 L446.62 283.68 L448.48 285.38 L450.34 287.15 L452.20 288.97 L454.06 290.84 L455.92 292.76 L457.78 294.73 L459.64 296.73 L461.50 298.77 L463.36 300.83 L465.22 302.91 L467.08 305.01 L468.94 307.11 L470.80 309.21 L472.66 311.30 L474.52 313.38 L476.38 315.44 L478.24 317.48 L480.10 319.48 L481.96 321.44 L483.82 323.35 L485.68 325.22 L487.54 327.04 L489.40 328.80 L491.26 330.50 L493.12 332.14 L494.98 333.71 L496.84 335.22 L498.70 336.67 L500.56 338.04 L502.42 339.36 L504.28 340.61 L506.14 341.79 L508.00 342.91" stroke="#58a633" stroke-width="1.6" fill="none"/>
<path d="M322.00 260.07 L323.86 260.20 L325.72 260.34 L327.58 260.48 L329.44 260.63 L331.30 260.78 L333.16 260.95 L335.02 261.11 L336.88 261.29 L338.74 261.47 L340.60 261.66 L342.46 261.85 L344.32 262.05 L346.18 262.27 L348.04 262.48 L349.90 262.71 L351.76 262.95 L353.62 263.19 L355.48 263.44 L357.34 263.71 L359.20 263.98 L361.06 264.26 L362.92 264.56 L364.78 264.86 L366.64 265.17 L368.50 265.50 L370.36 265.83 L372.22 266.18 L374.08 266.54 L375.94 266.91 L377.80 267.30 L379.66 267.69 L381.52 268.10 L383.38 268.52 L385.24 268.96 L387.10 269.41 L388.96 269.87 L390.82 270.35 L392.68 270.84 L394.54 271.35 L396.40 271.87 L398.26 272.40 L400.12 272.95 L401.98 273.52 L403.84 274.10 L405.70 274.69 L407.56 275.30 L409.42 275.92 L411.28 276.56 L413.14 277.21 L415.00 277.88 L416.86 278.56 L418.72 279.26 L420.58 279.97 L422.44 280.70 L424.30 281.43 L426.16 282.19 L428.02 282.95 L429.88 283.73 L431.74 284.52 L433.60 285.32 L435.46 286.13 L437.32 286.95 L439.18 287.78 L441.04 288.63 L442.90 289.48 L444.76 290.34 L446.62 291.20 L448.48 292.08 L450.34 292.96 L452.20 293.84 L454.06 294.73 L455.92 295.63 L457.78 296.52 L459.64 297.42 L461.50 298.32 L463.36 299.22 L465.22 300.12 L467.08 301.02 L468.94 301.92 L470.80 302.81 L472.66 303.70 L474.52 304.59 L476.38 305.47 L478.24 306.34 L480.10 307.21 L481.96 308.07 L483.82 308.92 L485.68 309.77 L487.54 310.60 L489.40 311.43 L491.26 312.24 L493.12 313.04 L494.98 313.83 L496.84 314.61 L498.70 315.38 L500.56 316.13 L502.42 316.87 L504.28 317.60 L506.14 318.31 L508.00 319.01" stroke="#233f7e" stroke-width="1.6" fill="none"/>
<path d="M322.00 256.25 L323.86 256.34 L325.72 256.44 L327.58 256.56 L329.44 256.68 L331.30 256.81 L333.16 256.95 L335.02 257.11 L336.88 257.28 L338.74 257.47 L340.60 257.67 L342.46 257.89 L344.32 258.12 L346.18 258.38 L348.04 258.66 L349.90 258.97 L351.76 259.30 L353.62 259.65 L355.48 260.04 L357.34 260.46 L359.20 260.91 L361.06 261.40 L362.92 261.93 L364.78 262.50 L366.64 263.11 L368.50 263.77 L370.36 264.48 L372.22 265.25 L374.08 266.06 L375.94 266.94 L377.80 267.88 L379.66 268.88 L381.52 269.95 L383.38 271.08 L385.24 272.29 L387.10 273.57 L388.96 274.92 L390.82 276.34 L392.68 277.84 L394.54 279.42 L396.40 281.07 L398.26 282.79 L400.12 284.58 L401.98 286.44 L403.84 288.36 L405.70 290.34 L407.56 292.38 L409.42 294.47 L411.28 296.60 L413.14 298.76 L415.00 300.95 L416.86 303.16 L418.72 305.38 L420.58 307.61 L422.44 309.83 L424.30 312.03 L426.16 314.22 L428.02 316.37 L429.88 318.49 L431.74 320.56 L433.60 322.58 L435.46 324.55 L437.32 326.45 L439.18 328.29 L441.04 330.07 L442.90 331.77 L444.76 333.40 L446.62 334.95 L448.48 336.43 L450.34 337.84 L452.20 339.17 L454.06 340.42 L455.92 341.61 L457.78 342.73 L459.64 343.78 L461.50 344.76 L463.36 345.68 L465.22 346.54 L467.08 347.34 L468.94 348.09 L470.80 348.79 L472.66 349.44 L474.52 350.04 L476.38 350.59 L478.24 351.11 L480.10 351.59 L481.96 352.03 L483.82 352.44 L485.68 352.82 L487.54 353.17 L489.40 353.49 L491.26 353.79 L493.12 354.06 L494.98 354.32 L496.84 354.55 L498.70 354.76 L500.56 354.96 L502.42 355.14 L504.28 355.31 L506.14 355.46 L508.00 355.60" stroke="#ad0728" stroke-width="1.6" fill="none"/>
<path d="M322.00 255.98 L323.86 256.00 L325.72 256.02 L327.58 256.05 L329.44 256.08 L331.30 256.11 L333.16 256.14 L335.02 256.18 L336.88 256.22 L338.74 256.27 L340.60 256.32 L342.46 256.37 L344.32 256.43 L346.18 256.50 L348.04 256.57 L349.90 256.65 L351.76 256.74 L353.62 256.83 L355.48 256.94 L357.34 257.05 L359.20 257.18 L361.06 257.31 L362.92 257.46 L364.78 257.63 L366.64 257.81 L368.50 258.01 L370.36 258.23 L372.22 258.46 L374.08 258.72 L375.94 259.00 L377.80 259.31 L379.66 259.65 L381.52 260.02 L383.38 260.42 L385.24 260.86 L387.10 261.34 L388.96 261.85 L390.82 262.42 L392.68 263.03 L394.54 263.69 L396.40 264.41 L398.26 265.19 L400.12 266.02 L401.98 266.93 L403.84 267.90 L405.70 268.95 L407.56 270.07 L409.42 271.27 L411.28 272.55 L413.14 273.91 L415.00 275.36 L416.86 276.90 L418.72 278.53 L420.58 280.24 L422.44 282.04 L424.30 283.92 L426.16 285.89 L428.02 287.93 L429.88 290.05 L431.74 292.23 L433.60 294.47 L435.46 296.76 L437.32 299.10 L439.18 301.47 L441.04 303.87 L442.90 306.28 L444.76 308.69 L446.62 311.10 L448.48 313.49 L450.34 315.85 L452.20 318.17 L454.06 320.44 L455.92 322.66 L457.78 324.81 L459.64 326.90 L461.50 328.91 L463.36 330.84 L465.22 332.69 L467.08 334.45 L468.94 336.13 L470.80 337.72 L472.66 339.22 L474.52 340.63 L476.38 341.96 L478.24 343.21 L480.10 344.37 L481.96 345.46 L483.82 346.48 L485.68 347.42 L487.54 348.30 L489.40 349.11 L491.26 349.86 L493.12 350.55 L494.98 351.19 L496.84 351.78 L498.70 352.33 L500.56 352.83 L502.42 353.29 L504.28 353.71 L506.14 354.10 L508.00 354.45" stroke="#3c1767" stroke-width="1.6" fill="none" stroke-dasharray="3.1 2"/>
<path d="M322.5 254.00V247.50M319.60 247.50H325.40" stroke="#58a633" stroke-width="1" stroke-opacity="0.85" fill="none"/>
<path d="M359.5 247.40V231.50M356.60 231.50H362.40" stroke="#58a633" stroke-width="1" stroke-opacity="0.85" fill="none"/>
<path d="M396.5 243.40V227.50M393.60 227.50H399.40M396.5 243.40V261.50M393.60 261.50H399.40" stroke="#58a633" stroke-width="1" stroke-opacity="0.85" fill="none"/>
<path d="M433.5 272.00V266.50M430.60 266.50H436.40M433.5 272.00V277.50M430.60 277.50H436.40" stroke="#58a633" stroke-width="1" stroke-opacity="0.85" fill="none"/>
<path d="M470.5 321.60V304.50M467.60 304.50H473.40M470.5 321.60V343.50M467.60 343.50H473.40" stroke="#58a633" stroke-width="1" stroke-opacity="0.85" fill="none"/>
<path d="M359.5 259.00V265.50M356.60 265.50H362.40" stroke="#233f7e" stroke-width="1" stroke-opacity="0.85" fill="none"/>
<path d="M396.5 269.40V261.50M393.60 261.50H399.40M396.5 269.40V278.50M393.60 278.50H399.40" stroke="#233f7e" stroke-width="1" stroke-opacity="0.85" fill="none"/>
<path d="M433.5 288.40V276.50M430.60 276.50H436.40M433.5 288.40V298.50M430.60 298.50H436.40" stroke="#233f7e" stroke-width="1" stroke-opacity="0.85" fill="none"/>
<path d="M508.5 318.00V313.50M505.60 313.50H511.40M508.5 318.00V322.50M505.60 322.50H511.40" stroke="#233f7e" stroke-width="1" stroke-opacity="0.85" fill="none"/>
<path d="M359.5 258.00V240.50M356.60 240.50H362.40M359.5 258.00V270.50M356.60 270.50H362.40" stroke="#ad0728" stroke-width="1" stroke-opacity="0.85" fill="none"/>
<path d="M396.5 281.40V262.50M393.60 262.50H399.40M396.5 281.40V298.50M393.60 298.50H399.40" stroke="#ad0728" stroke-width="1" stroke-opacity="0.85" fill="none"/>
<rect x="319.00" y="251.00" width="6" height="6" fill="#58a633"/>
<rect x="356.20" y="244.40" width="6" height="6" fill="#58a633"/>
<rect x="393.40" y="240.40" width="6" height="6" fill="#58a633"/>
<rect x="430.60" y="269.00" width="6" height="6" fill="#58a633"/>
<rect x="467.80" y="318.60" width="6" height="6" fill="#58a633"/>
<rect x="505.00" y="327.00" width="6" height="6" fill="#58a633"/>
<circle cx="322.00" cy="257.00" r="2.2" fill="#3c1767"/>
<circle cx="359.20" cy="252.60" r="2.2" fill="#3c1767"/>
<circle cx="396.40" cy="258.60" r="2.2" fill="#3c1767"/>
<circle cx="433.60" cy="299.40" r="2.2" fill="#3c1767"/>
<circle cx="470.80" cy="339.00" r="2.2" fill="#3c1767"/>
<circle cx="508.00" cy="346.60" r="2.2" fill="#3c1767"/>
<path d="M322.00 255.20L325.40 262.20L318.60 262.20Z" fill="#ad0728"/>
<path d="M359.20 254.20L362.60 261.20L355.80 261.20Z" fill="#ad0728"/>
<path d="M396.40 277.60L399.80 284.60L393.00 284.60Z" fill="#ad0728"/>
<path d="M433.60 328.60L437.00 335.60L430.20 335.60Z" fill="#ad0728"/>
<path d="M470.80 339.20L474.20 346.20L467.40 346.20Z" fill="#ad0728"/>
<path d="M508.00 338.20L511.40 345.20L504.60 345.20Z" fill="#ad0728"/>
<circle cx="322.00" cy="263.00" r="3.1" fill="#233f7e"/>
<circle cx="359.20" cy="259.00" r="3.1" fill="#233f7e"/>
<circle cx="396.40" cy="269.40" r="3.1" fill="#233f7e"/>
<circle cx="433.60" cy="288.40" r="3.1" fill="#233f7e"/>
<circle cx="470.80" cy="304.40" r="3.1" fill="#233f7e"/>
<circle cx="508.00" cy="318.00" r="3.1" fill="#233f7e"/>
<text x="153.75" y="418.10" text-anchor="middle" font-size="10" style="stroke-width:0.3px">AML-18</text>
<path d="M55.5 558.10V421.83" stroke="#000" stroke-width="1.4" fill="none"/>
<path d="M54.90 557.50H257.2" stroke="#000" stroke-width="1.3" fill="none"/>
<path d="M52.00 557.50H55.5" stroke="#000" stroke-width="1"/>
<text x="49.10" y="560.40" text-anchor="end" font-size="8.5" letter-spacing="0.2">0</text>
<path d="M52.00 535.44H55.5" stroke="#000" stroke-width="1"/>
<text x="49.10" y="538.34" text-anchor="end" font-size="8.5" letter-spacing="0.2">20</text>
<path d="M52.00 513.38H55.5" stroke="#000" stroke-width="1"/>
<text x="49.10" y="516.28" text-anchor="end" font-size="8.5" letter-spacing="0.2">40</text>
<path d="M52.00 491.32H55.5" stroke="#000" stroke-width="1"/>
<text x="49.10" y="494.22" text-anchor="end" font-size="8.5" letter-spacing="0.2">60</text>
<path d="M52.00 469.26H55.5" stroke="#000" stroke-width="1"/>
<text x="49.10" y="472.16" text-anchor="end" font-size="8.5" letter-spacing="0.2">80</text>
<path d="M52.00 447.20H55.5" stroke="#000" stroke-width="1"/>
<text x="49.10" y="450.10" text-anchor="end" font-size="8.5" letter-spacing="0.2">100</text>
<path d="M52.00 425.14H55.5" stroke="#000" stroke-width="1"/>
<text x="49.10" y="428.04" text-anchor="end" font-size="8.5" letter-spacing="0.2">120</text>
<path d="M67.6 557.5V560.80" stroke="#000" stroke-width="1"/>
<text x="67.6" y="571.50" text-anchor="middle" font-size="8.3">0.125x</text>
<path d="M104.8 557.5V560.80" stroke="#000" stroke-width="1"/>
<text x="104.8" y="571.50" text-anchor="middle" font-size="8.3">0.25x</text>
<path d="M142 557.5V560.80" stroke="#000" stroke-width="1"/>
<text x="142" y="571.50" text-anchor="middle" font-size="8.3">0.5x</text>
<path d="M179.2 557.5V560.80" stroke="#000" stroke-width="1"/>
<text x="179.2" y="571.50" text-anchor="middle" font-size="8.3">1x</text>
<path d="M216.4 557.5V560.80" stroke="#000" stroke-width="1"/>
<text x="216.4" y="571.50" text-anchor="middle" font-size="8.3">2x</text>
<path d="M253.6 557.5V560.80" stroke="#000" stroke-width="1"/>
<text x="253.6" y="571.50" text-anchor="middle" font-size="8.3">4x</text>
<path d="M56.20 502.35H253.6" stroke="#000" stroke-width="1.1" stroke-dasharray="1.1 1.1"/>
<text transform="translate(25,490) rotate(-90) scale(0.68,1)" x="0" y="3.5" text-anchor="middle" font-size="10.4" style="stroke-width:0.4px">%MDC (annexin V/7AAD -ve)</text>
<text transform="translate(156,586) scale(0.675,1)" x="0" y="0" text-anchor="middle" font-size="10" style="stroke-width:0.4px">Relative IC<tspan font-size="6.2" dy="3">50</tspan><tspan dy="-3"> dosage</tspan></text>
<path d="M67.60 447.43 L69.46 447.44 L71.32 447.45 L73.18 447.46 L75.04 447.48 L76.90 447.49 L78.76 447.50 L80.62 447.52 L82.48 447.53 L84.34 447.55 L86.20 447.57 L88.06 447.59 L89.92 447.62 L91.78 447.64 L93.64 447.67 L95.50 447.70 L97.36 447.73 L99.22 447.77 L101.08 447.80 L102.94 447.85 L104.80 447.89 L106.66 447.94 L108.52 447.99 L110.38 448.05 L112.24 448.12 L114.10 448.18 L115.96 448.26 L117.82 448.34 L119.68 448.43 L121.54 448.52 L123.40 448.63 L125.26 448.74 L127.12 448.86 L128.98 449.00 L130.84 449.14 L132.70 449.30 L134.56 449.47 L136.42 449.65 L138.28 449.85 L140.14 450.07 L142.00 450.30 L143.86 450.56 L145.72 450.83 L147.58 451.13 L149.44 451.45 L151.30 451.80 L153.16 452.18 L155.02 452.58 L156.88 453.02 L158.74 453.49 L160.60 454.00 L162.46 454.55 L164.32 455.14 L166.18 455.77 L168.04 456.45 L169.90 457.18 L171.76 457.96 L173.62 458.79 L175.48 459.68 L177.34 460.63 L179.20 461.64 L181.06 462.71 L182.92 463.85 L184.78 465.06 L186.64 466.34 L188.50 467.68 L190.36 469.10 L192.22 470.58 L194.08 472.14 L195.94 473.77 L197.80 475.46 L199.66 477.22 L201.52 479.05 L203.38 480.93 L205.24 482.87 L207.10 484.86 L208.96 486.89 L210.82 488.97 L212.68 491.08 L214.54 493.21 L216.40 495.37 L218.26 497.53 L220.12 499.70 L221.98 501.87 L223.84 504.02 L225.70 506.16 L227.56 508.26 L229.42 510.34 L231.28 512.38 L233.14 514.36 L235.00 516.30 L236.86 518.19 L238.72 520.01 L240.58 521.77 L242.44 523.46 L244.30 525.09 L246.16 526.64 L248.02 528.13 L249.88 529.54 L251.74 530.89 L253.60 532.16" stroke="#58a633" stroke-width="1.6" fill="none"/>
<path d="M67.60 452.53 L69.46 452.66 L71.32 452.78 L73.18 452.92 L75.04 453.05 L76.90 453.19 L78.76 453.34 L80.62 453.49 L82.48 453.65 L84.34 453.81 L86.20 453.98 L88.06 454.15 L89.92 454.33 L91.78 454.52 L93.64 454.71 L95.50 454.91 L97.36 455.11 L99.22 455.32 L101.08 455.54 L102.94 455.77 L104.80 456.00 L106.66 456.24 L108.52 456.49 L110.38 456.75 L112.24 457.02 L114.10 457.29 L115.96 457.57 L117.82 457.86 L119.68 458.16 L121.54 458.47 L123.40 458.79 L125.26 459.12 L127.12 459.45 L128.98 459.80 L130.84 460.16 L132.70 460.53 L134.56 460.91 L136.42 461.29 L138.28 461.69 L140.14 462.10 L142.00 462.52 L143.86 462.96 L145.72 463.40 L147.58 463.85 L149.44 464.32 L151.30 464.80 L153.16 465.28 L155.02 465.78 L156.88 466.30 L158.74 466.82 L160.60 467.35 L162.46 467.90 L164.32 468.46 L166.18 469.03 L168.04 469.61 L169.90 470.20 L171.76 470.80 L173.62 471.41 L175.48 472.04 L177.34 472.67 L179.20 473.32 L181.06 473.98 L182.92 474.64 L184.78 475.32 L186.64 476.00 L188.50 476.69 L190.36 477.40 L192.22 478.11 L194.08 478.83 L195.94 479.55 L197.80 480.29 L199.66 481.03 L201.52 481.77 L203.38 482.53 L205.24 483.28 L207.10 484.05 L208.96 484.81 L210.82 485.58 L212.68 486.36 L214.54 487.13 L216.40 487.91 L218.26 488.69 L220.12 489.47 L221.98 490.25 L223.84 491.03 L225.70 491.81 L227.56 492.59 L229.42 493.37 L231.28 494.14 L233.14 494.91 L235.00 495.68 L236.86 496.44 L238.72 497.20 L240.58 497.95 L242.44 498.70 L244.30 499.44 L246.16 500.17 L248.02 500.90 L249.88 501.62 L251.74 502.33 L253.60 503.04" stroke="#233f7e" stroke-width="1.6" fill="none"/>
<path d="M67.60 451.36 L69.46 451.66 L71.32 451.98 L73.18 452.32 L75.04 452.68 L76.90 453.05 L78.76 453.45 L80.62 453.86 L82.48 454.29 L84.34 454.75 L86.20 455.23 L88.06 455.73 L89.92 456.26 L91.78 456.81 L93.64 457.39 L95.50 457.99 L97.36 458.62 L99.22 459.28 L101.08 459.97 L102.94 460.69 L104.80 461.44 L106.66 462.23 L108.52 463.04 L110.38 463.89 L112.24 464.77 L114.10 465.69 L115.96 466.64 L117.82 467.63 L119.68 468.65 L121.54 469.70 L123.40 470.80 L125.26 471.92 L127.12 473.09 L128.98 474.28 L130.84 475.52 L132.70 476.78 L134.56 478.08 L136.42 479.41 L138.28 480.77 L140.14 482.17 L142.00 483.59 L143.86 485.04 L145.72 486.51 L147.58 488.01 L149.44 489.53 L151.30 491.07 L153.16 492.62 L155.02 494.19 L156.88 495.78 L158.74 497.37 L160.60 498.98 L162.46 500.59 L164.32 502.20 L166.18 503.81 L168.04 505.42 L169.90 507.02 L171.76 508.61 L173.62 510.20 L175.48 511.77 L177.34 513.33 L179.20 514.87 L181.06 516.39 L182.92 517.89 L184.78 519.36 L186.64 520.81 L188.50 522.23 L190.36 523.63 L192.22 524.99 L194.08 526.32 L195.94 527.62 L197.80 528.89 L199.66 530.12 L201.52 531.32 L203.38 532.49 L205.24 533.62 L207.10 534.71 L208.96 535.77 L210.82 536.79 L212.68 537.78 L214.54 538.73 L216.40 539.65 L218.26 540.53 L220.12 541.38 L221.98 542.20 L223.84 542.98 L225.70 543.73 L227.56 544.46 L229.42 545.15 L231.28 545.81 L233.14 546.44 L235.00 547.05 L236.86 547.62 L238.72 548.18 L240.58 548.70 L242.44 549.21 L244.30 549.69 L246.16 550.14 L248.02 550.58 L249.88 550.99 L251.74 551.39 L253.60 551.76" stroke="#ad0728" stroke-width="1.6" fill="none"/>
<path d="M67.60 448.25 L69.46 448.35 L71.32 448.46 L73.18 448.57 L75.04 448.69 L76.90 448.82 L78.76 448.96 L80.62 449.10 L82.48 449.25 L84.34 449.42 L86.20 449.59 L88.06 449.77 L89.92 449.96 L91.78 450.17 L93.64 450.38 L95.50 450.61 L97.36 450.85 L99.22 451.11 L101.08 451.38 L102.94 451.67 L104.80 451.97 L106.66 452.29 L108.52 452.63 L110.38 452.99 L112.24 453.37 L114.10 453.77 L115.96 454.19 L117.82 454.63 L119.68 455.10 L121.54 455.59 L123.40 456.11 L125.26 456.66 L127.12 457.23 L128.98 457.84 L130.84 458.47 L132.70 459.13 L134.56 459.83 L136.42 460.56 L138.28 461.33 L140.14 462.13 L142.00 462.96 L143.86 463.83 L145.72 464.74 L147.58 465.69 L149.44 466.68 L151.30 467.71 L153.16 468.78 L155.02 469.88 L156.88 471.03 L158.74 472.22 L160.60 473.44 L162.46 474.71 L164.32 476.01 L166.18 477.36 L168.04 478.74 L169.90 480.15 L171.76 481.60 L173.62 483.09 L175.48 484.60 L177.34 486.15 L179.20 487.72 L181.06 489.32 L182.92 490.94 L184.78 492.58 L186.64 494.23 L188.50 495.90 L190.36 497.59 L192.22 499.28 L194.08 500.97 L195.94 502.67 L197.80 504.37 L199.66 506.06 L201.52 507.74 L203.38 509.41 L205.24 511.07 L207.10 512.72 L208.96 514.34 L210.82 515.94 L212.68 517.52 L214.54 519.07 L216.40 520.59 L218.26 522.08 L220.12 523.53 L221.98 524.95 L223.84 526.34 L225.70 527.69 L227.56 529.00 L229.42 530.28 L231.28 531.51 L233.14 532.70 L235.00 533.86 L236.86 534.97 L238.72 536.04 L240.58 537.08 L242.44 538.07 L244.30 539.03 L246.16 539.95 L248.02 540.82 L249.88 541.67 L251.74 542.47 L253.60 543.24" stroke="#3c1767" stroke-width="1.6" fill="none" stroke-dasharray="3.1 2"/>
<path d="M67.5 445.00V441.50M64.60 441.50H70.40M67.5 445.00V449.50M64.60 449.50H70.40" stroke="#58a633" stroke-width="1" stroke-opacity="0.85" fill="none"/>
<path d="M104.5 447.00V443.50M101.60 443.50H107.40" stroke="#58a633" stroke-width="1" stroke-opacity="0.85" fill="none"/>
<path d="M104.5 453.00V460.50M101.60 460.50H107.40" stroke="#233f7e" stroke-width="1" stroke-opacity="0.85" fill="none"/>
<path d="M142.5 461.00V453.50M139.60 453.50H145.40M142.5 461.00V468.50M139.60 468.50H145.40" stroke="#233f7e" stroke-width="1" stroke-opacity="0.85" fill="none"/>
<path d="M179.5 479.00V467.50M176.60 467.50H182.40M179.5 479.00V490.50M176.60 490.50H182.40" stroke="#233f7e" stroke-width="1" stroke-opacity="0.85" fill="none"/>
<path d="M216.5 490.00V486.50M213.60 486.50H219.40M216.5 490.00V494.50M213.60 494.50H219.40" stroke="#233f7e" stroke-width="1" stroke-opacity="0.85" fill="none"/>
<path d="M253.5 499.60V494.50M250.60 494.50H256.40M253.5 499.60V505.50M250.60 505.50H256.40" stroke="#233f7e" stroke-width="1" stroke-opacity="0.85" fill="none"/>
<path d="M104.5 455.00V459.50M101.60 459.50H107.40" stroke="#ad0728" stroke-width="1" stroke-opacity="0.85" fill="none"/>
<path d="M142.5 487.60V483.50M139.60 483.50H145.40M142.5 487.60V491.50M139.60 491.50H145.40" stroke="#ad0728" stroke-width="1" stroke-opacity="0.85" fill="none"/>
<path d="M179.5 526.00V522.50M176.60 522.50H182.40" stroke="#ad0728" stroke-width="1" stroke-opacity="0.85" fill="none"/>
<path d="M216.5 534.00V529.50M213.60 529.50H219.40M216.5 534.00V539.50M213.60 539.50H219.40" stroke="#ad0728" stroke-width="1" stroke-opacity="0.85" fill="none"/>
<rect x="64.60" y="442.00" width="6" height="6" fill="#58a633"/>
<rect x="101.80" y="444.00" width="6" height="6" fill="#58a633"/>
<rect x="139.00" y="445.40" width="6" height="6" fill="#58a633"/>
<rect x="176.20" y="457.60" width="6" height="6" fill="#58a633"/>
<rect x="213.40" y="495.00" width="6" height="6" fill="#58a633"/>
<rect x="250.60" y="529.00" width="6" height="6" fill="#58a633"/>
<circle cx="67.60" cy="448.00" r="2.2" fill="#3c1767"/>
<circle cx="104.80" cy="452.00" r="2.2" fill="#3c1767"/>
<circle cx="142.00" cy="460.00" r="2.2" fill="#3c1767"/>
<circle cx="179.20" cy="488.40" r="2.2" fill="#3c1767"/>
<circle cx="216.40" cy="521.00" r="2.2" fill="#3c1767"/>
<circle cx="253.60" cy="544.00" r="2.2" fill="#3c1767"/>
<path d="M67.60 450.20L71.00 457.20L64.20 457.20Z" fill="#ad0728"/>
<path d="M104.80 451.20L108.20 458.20L101.40 458.20Z" fill="#ad0728"/>
<path d="M142.00 483.80L145.40 490.80L138.60 490.80Z" fill="#ad0728"/>
<path d="M179.20 522.20L182.60 529.20L175.80 529.20Z" fill="#ad0728"/>
<path d="M216.40 530.20L219.80 537.20L213.00 537.20Z" fill="#ad0728"/>
<path d="M253.60 533.60L257.00 540.60L250.20 540.60Z" fill="#ad0728"/>
<circle cx="67.60" cy="449.00" r="3.1" fill="#233f7e"/>
<circle cx="104.80" cy="453.00" r="3.1" fill="#233f7e"/>
<circle cx="142.00" cy="461.00" r="3.1" fill="#233f7e"/>
<circle cx="179.20" cy="479.00" r="3.1" fill="#233f7e"/>
<circle cx="216.40" cy="490.00" r="3.1" fill="#233f7e"/>
<circle cx="253.60" cy="499.60" r="3.1" fill="#233f7e"/>
<path d="M376.25 453H396.25" stroke="#233f7e" stroke-width="1.5"/>
<circle cx="386.25" cy="453.00" r="3.1" fill="#233f7e"/>
<text x="399.5" y="455.5" font-size="7.8" style="stroke-width:0.15px">JQ1</text>
<path d="M376.25 477.5H396.25" stroke="#58a633" stroke-width="1.5"/>
<rect x="383.25" y="474.50" width="6" height="6" fill="#58a633"/>
<text x="399.5" y="480.0" font-size="7.8" style="stroke-width:0.15px">CDKi-73</text>
<path d="M376.25 501.5H396.25" stroke="#ad0728" stroke-width="1.5"/>
<path d="M386.25 497.70L389.65 504.70L382.85 504.70Z" fill="#ad0728"/>
<text x="399.5" y="504.0" font-size="7.8" style="stroke-width:0.15px">Combination</text>
<path d="M376.25 526.25H396.25" stroke="#3c1767" stroke-width="1.5" stroke-dasharray="3 2.5"/>
<circle cx="386.25" cy="526.25" r="2.2" fill="#3c1767"/>
<text x="399.5" y="528.75" font-size="7.8" style="stroke-width:0.15px">Bliss-Additive</text>
</svg>
</body></html>
